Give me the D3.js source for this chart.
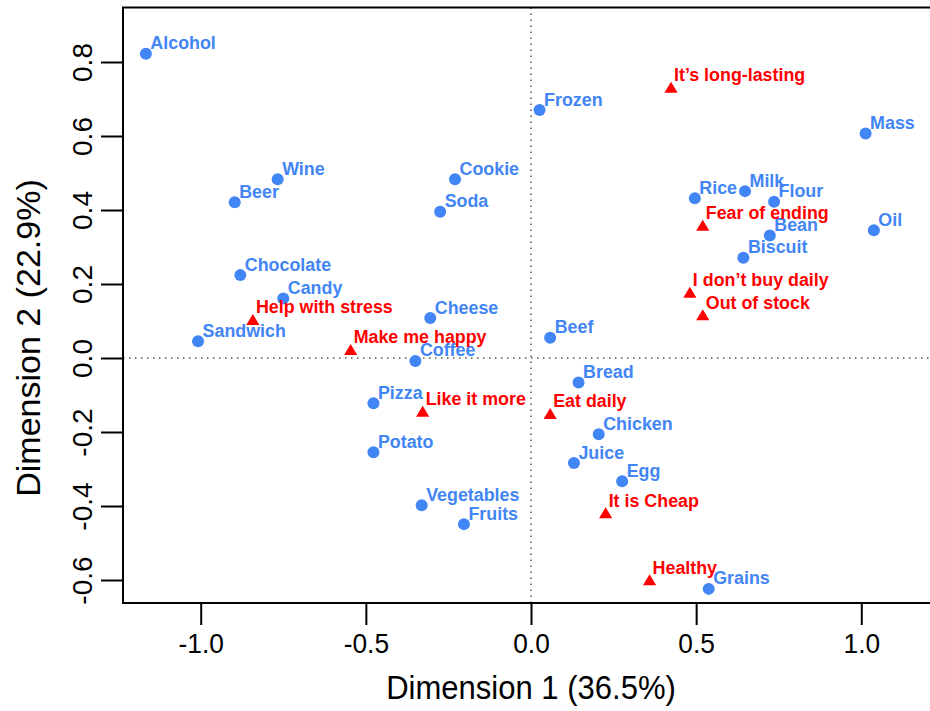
<!DOCTYPE html>
<html><head><meta charset="utf-8">
<script src="https://cdn.jsdelivr.net/npm/d3@7"></script>
<style>body{margin:0;background:#fff}</style>
</head><body>
<svg id="chart" width="930" height="711"></svg>
<script>
// ---- data ----
const foodNames = ["Alcohol","Wine","Beer","Cookie","Soda","Chocolate","Candy","Cheese","Sandwich","Coffee",
  "Frozen","Mass","Rice","Milk","Flour","Oil","Bean","Biscuit","Beef",
  "Pizza","Potato","Vegetables","Fruits","Bread","Chicken","Juice","Egg","Grains"];
const foodX = [-1.166,-0.767,-0.897,-0.230,-0.275,-0.880,-0.750,-0.305,-1.008,-0.350,
  0.026,1.013,0.496,0.648,0.736,1.038,0.723,0.643,0.058,
  -0.477,-0.477,-0.331,-0.203,0.144,0.205,0.130,0.276,0.538];
const foodY = [0.822,0.483,0.421,0.483,0.395,0.224,0.161,0.108,0.045,-0.008,
  0.670,0.607,0.432,0.451,0.422,0.345,0.331,0.271,0.055,
  -0.122,-0.255,-0.398,-0.449,-0.066,-0.206,-0.284,-0.333,-0.624];
const attrNames = ["Help with stress","Make me happy","It\u2019s long-lasting","Fear of ending",
  "I don\u2019t buy daily","Out of stock","Like it more","Eat daily","It is Cheap","Healthy"];
const attrX = [-0.842,-0.546,0.424,0.520,0.481,0.520,-0.328,0.058,0.226,0.359];
const attrY = [0.103,0.022,0.731,0.358,0.177,0.116,-0.145,-0.151,-0.419,-0.600];
const xTicks = [-1.0,-0.5,0.0,0.5,1.0];
const yTicks = [-0.6,-0.4,-0.2,0.0,0.2,0.4,0.6,0.8];
const xTitle = "Dimension 1 (36.5%)";
const yTitle = "Dimension 2 (22.9%)";

// ---- layout ----
const FONT = "'Liberation Sans', Arial, Helvetica, sans-serif";
const BLUE = "#4285F4", RED = "#FF0000";
const SX = 0.94;
const plotL = 123, plotR = 940, plotT = 7.5, plotB = 603;
const fmt = d => d.toFixed(1);

const svg = d3.select("#chart");
const x = d3.scaleLinear().domain([-1, 1]).range([200.7, 861.3]);
const y = d3.scaleLinear().domain([-0.6, 0.8]).range([580, 62]);

// reference lines
svg.append("line").attr("x1", x(0)).attr("x2", x(0)).attr("y1", plotT).attr("y2", plotB)
  .attr("stroke", "#555").attr("stroke-width", 1.5).attr("stroke-dasharray", "1.5,4.5");
svg.append("line").attr("x1", plotL).attr("x2", plotR).attr("y1", y(0)).attr("y2", y(0))
  .attr("stroke", "#555").attr("stroke-width", 1.5).attr("stroke-dasharray", "1.5,4.5");

// box
svg.append("rect").attr("x", plotL).attr("y", plotT).attr("width", plotR - plotL).attr("height", plotB - plotT)
  .attr("fill", "none").attr("stroke", "#000").attr("stroke-width", 2);

// axes
const xAxis = svg.append("g").attr("transform", `translate(0,${plotB})`)
  .call(d3.axisBottom(x).tickValues(xTicks).tickFormat(fmt).tickSize(22).tickSizeOuter(0));
xAxis.select(".domain").remove();
xAxis.selectAll("line").attr("stroke-width", 2);
xAxis.selectAll("text").attr("font-family", FONT).attr("font-size", 28).attr("fill", "#000")
  .attr("y", 0).attr("dy", 0).attr("transform", `translate(0,50) scale(${SX},1)`);

const yAxis = svg.append("g").attr("transform", `translate(${plotL},0)`)
  .call(d3.axisLeft(y).tickValues(yTicks).tickFormat(fmt).tickSize(22).tickSizeOuter(0));
yAxis.select(".domain").remove();
yAxis.selectAll("line").attr("stroke-width", 2);
yAxis.selectAll("text").attr("font-family", FONT).attr("font-size", 28).attr("fill", "#000")
  .attr("text-anchor", "middle").attr("x", 0).attr("y", 0).attr("dy", 0)
  .attr("transform", "translate(-31,0) rotate(-90)");

// titles
svg.append("text").attr("transform", `translate(531,699) scale(${SX},1)`)
  .attr("text-anchor", "middle").attr("font-family", FONT).attr("font-size", 33).text(xTitle);
svg.append("text").attr("transform", "translate(40,338) rotate(-90)")
  .attr("text-anchor", "middle").attr("font-family", FONT).attr("font-size", 34).text(yTitle);

// points
const foods = foodNames.map((n, i) => ({n, x: foodX[i], y: foodY[i]}));
const attrs = attrNames.map((n, i) => ({n, x: attrX[i], y: attrY[i]}));

svg.append("g").selectAll("circle").data(foods).join("circle")
  .attr("cx", d => x(d.x)).attr("cy", d => y(d.y)).attr("r", 6).attr("fill", BLUE);
svg.append("g").selectAll("path").data(attrs).join("path")
  .attr("d", d => { const cx = x(d.x), cy = y(d.y);
    return `M${cx},${cy - 5.8}L${cx + 6.6},${cy + 5.2}L${cx - 6.6},${cy + 5.2}Z`; })
  .attr("fill", RED);

svg.append("g").selectAll("text").data(foods).join("text")
  .attr("transform", d => `translate(${x(d.x) + 4.5},${y(d.y) - 4.5}) scale(${SX},1)`)
  .attr("font-family", FONT).attr("font-weight", "bold").attr("font-size", 19)
  .attr("fill", BLUE).text(d => d.n);
svg.append("g").selectAll("text").data(attrs).join("text")
  .attr("transform", d => `translate(${x(d.x) + 3},${y(d.y) - 6.5}) scale(${SX},1)`)
  .attr("font-family", FONT).attr("font-weight", "bold").attr("font-size", 19)
  .attr("fill", RED).text(d => d.n);
</script>
</body></html>
